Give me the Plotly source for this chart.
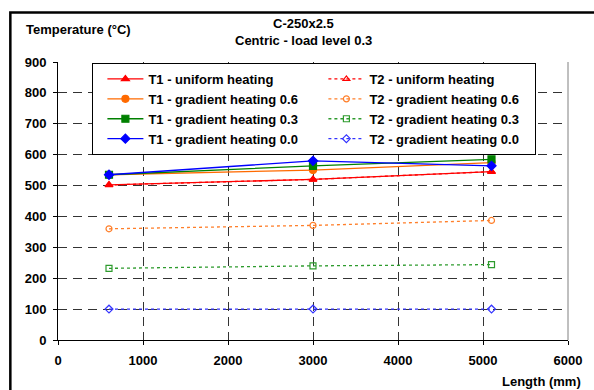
import plotly.graph_objects as go

# ---- data ----
lengths = [600, 3000, 5100]
t1_uniform = [502, 520, 545]
t2_uniform = [502, 520, 545]
t1_grad06 = [535, 550, 574]
t2_grad06 = [360, 371, 387]
t1_grad03 = [535, 564, 585]
t2_grad03 = [232, 240, 244]
t1_grad00 = [535, 580, 564]
t2_grad00 = [100, 100, 100]

names = ["T1 - uniform heating", "T2 - uniform heating",
         "T1 - gradient heating 0.6", "T2 - gradient heating 0.6",
         "T1 - gradient heating 0.3", "T2 - gradient heating 0.3",
         "T1 - gradient heating 0.0", "T2 - gradient heating 0.0"]
series = [t1_uniform, t2_uniform, t1_grad06, t2_grad06,
          t1_grad03, t2_grad03, t1_grad00, t2_grad00]
colors = ["#FF0000", "#FF0000", "#FF6A00", "#FF7F2A",
          "#008000", "#2E9B2E", "#0000FF", "#3333FF"]
symbols = ["triangle-up", "triangle-up-open", "circle", "circle-open",
           "square", "square-open", "diamond", "diamond-open"]

FONT = "Liberation Sans, Arial, sans-serif"

fig = go.Figure()
for i, (nm, ys, c, s) in enumerate(zip(names, series, colors, symbols)):
    t1 = (i % 2 == 0)
    fig.add_trace(go.Scatter(
        x=lengths, y=ys, name=nm, mode="lines+markers",
        line=dict(color=c, width=1.3, dash="solid" if t1 else "3px,3px"),
        marker=dict(symbol=s, color=c, size=7 if t1 else 6,
                    line=dict(color=c, width=1.2)),
    ))

W, H = 594, 390
ml, mr, mt, mb = 58, 17, 62, 50
pw, ph = W - ml - mr, H - mt - mb

def px(xp):
    return (xp - ml) / pw

def py(yp):
    return (H - mb - yp) / ph

fig.update_layout(
    width=W, height=H,
    margin=dict(l=ml, r=mr, t=mt, b=mb, pad=0),
    paper_bgcolor="white", plot_bgcolor="white",
    font=dict(family=FONT, size=13, color="black", weight="bold"),
    showlegend=True,
    legend=dict(
        orientation="h", x=px(93), y=py(63), xanchor="left", yanchor="top",
        bgcolor="white", bordercolor="black", borderwidth=1,
        entrywidth=161, entrywidthmode="pixels", indentation=9, itemwidth=36,
        font=dict(family=FONT, size=13, color="black", weight="bold"),
        traceorder="normal",
    ),
    xaxis=dict(
        range=[0, 6000], dtick=1000, tick0=0,
        showline=True, linecolor="black", linewidth=1,
        ticks="outside", ticklen=4, tickcolor="black",
        ticklabelstandoff=4,
        showgrid=True, gridcolor="#333333", gridwidth=1, griddash="9px,6px",
        zeroline=False,
    ),
    yaxis=dict(
        range=[0, 900], dtick=100, tick0=0,
        showline=True, linecolor="black", linewidth=1,
        ticks="outside", ticklen=4, tickcolor="black",
        ticklabelstandoff=4,
        showgrid=True, gridcolor="#333333", gridwidth=1, griddash="9px,6px",
        zeroline=False,
    ),
    annotations=[
        dict(text="C-250x2.5", x=px(308), y=py(24), xref="paper", yref="paper",
             xanchor="center", yanchor="middle", showarrow=False),
        dict(text="Centric - load level 0.3", x=px(308), y=py(40), xref="paper", yref="paper",
             xanchor="center", yanchor="middle", showarrow=False),
        dict(text="Temperature (°C)", x=px(23), y=py(29), xref="paper", yref="paper",
             xanchor="left", yanchor="middle", showarrow=False),
        dict(text="Length (mm)", x=px(592), y=py(381), xref="paper", yref="paper",
             xanchor="right", yanchor="middle", showarrow=False),
    ],
    shapes=[
        dict(type="line", xref="paper", yref="paper", x0=1, x1=1, y0=0, y1=1,
             line=dict(color="#808080", width=1)),
        dict(type="rect", xref="paper", yref="paper",
             x0=px(9.5), x1=px(700), y0=py(500), y1=py(12.5),
             line=dict(color="black", width=2.5), fillcolor="rgba(0,0,0,0)"),
    ],
)

fig.write_html("out.html")
